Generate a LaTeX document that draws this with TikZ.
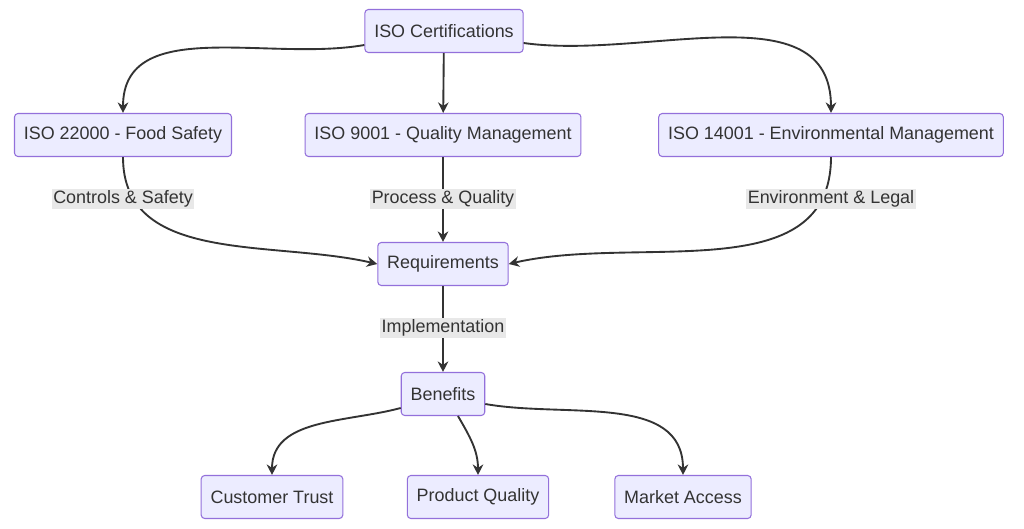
\documentclass[tikz,border=0pt]{standalone}
\usepackage{fontspec}
\setmainfont{Liberation Sans}
\usetikzlibrary{arrows.meta}
\definecolor{boxfill}{HTML}{ECECFF}
\definecolor{boxline}{HTML}{9370DB}
\definecolor{edgecol}{HTML}{333333}
\definecolor{lblfill}{HTML}{E8E8E8}
\tikzset{
  box/.style={draw=boxline, fill=boxfill, rounded corners=3pt, line width=0.9pt,
    minimum height=1.29cm, inner xsep=8pt, font=\fontsize{15.3}{17}\selectfont, text=edgecol},
  edge/.style={draw=edgecol, line width=1.6pt, -{Stealth[length=9pt,width=9pt]}},
  lbl/.style={fill=lblfill, inner sep=1.5pt, font=\fontsize{15.3}{17}\selectfont, text=edgecol}
}
\begin{document}
\begin{tikzpicture}[x=0.03cm, y=-0.03cm]
  \useasboundingbox[fill=white] (0,0) rectangle (1024,529);
  \node[box](Cert) at (444,31) {ISO Certifications};
  \node[box](Food) at (123,135) {ISO 22000 - Food Safety};
  \node[box](Qual) at (443,135) {ISO 9001 - Quality Management};
  \node[box](Env) at (831,135) {ISO 14001 - Environmental Management};
  \node[box](Req) at (443,264) {Requirements};
  \node[box](Ben) at (443,394) {Benefits};
  \node[box](Trust) at (272,497) {Customer Trust};
  \node[box](Prod) at (478,497) {Product Quality};
  \node[box](Mkt) at (683,497) {Market Access};

  \draw[edge] (Cert.west) ++(0,14) to[out=190, in=90] (Food.north);
  \draw[edge] (Cert) -- (Qual);
  \draw[edge] (Cert.east) ++(0,12) to[out=-8, in=90] (Env.north);

  \draw[edge] (Food.south) to[out=-90, in=167] (Req.west);
  \draw[edge] (Qual) -- (Req);
  \draw[edge] (Env.south) to[out=-90, in=13] (Req.east);
  \node[lbl] at (123,199) {Controls \& Safety};
  \node[lbl] at (443,199) {Process \& Quality};
  \node[lbl] at (831,199) {Environment \& Legal};

  \draw[edge] (Req) -- (Ben);
  \node[lbl] at (443,328) {Implementation};

  \draw[edge] (Ben.west) ++(0,14) to[out=195, in=90] (Trust.north);
  \draw[edge] (Ben.south) ++(15,0) to[out=-60, in=90] (Prod.north);
  \draw[edge] (Ben.east) ++(0,10) to[out=-10, in=90] (Mkt.north);
\end{tikzpicture}
\end{document}
